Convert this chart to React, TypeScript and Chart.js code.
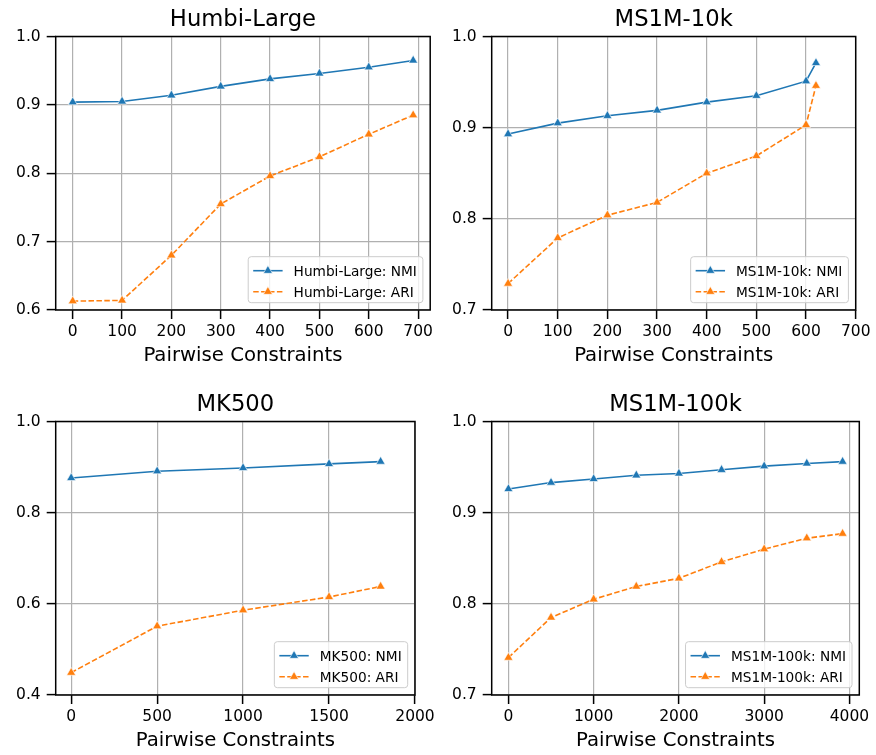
import React, { useEffect, useRef } from 'react';
import { Chart, registerables } from 'chart.js';

Chart.register(...registerables);

const FONT = '"DejaVu Sans", "Liberation Sans", sans-serif';
const BLUE = '#1f77b4';
const ORANGE = '#ff7f0e';
const GRID = '#b0b0b0';

// ---------- data ----------
const humbiX = [0, 100, 200, 300, 400, 500, 600, 690];
const humbiNMI = [0.904, 0.905, 0.914, 0.927, 0.938, 0.946, 0.955, 0.965];
const humbiARI = [0.613, 0.614, 0.680, 0.755, 0.796, 0.824, 0.857, 0.885];
const humbiXTicks = [0, 100, 200, 300, 400, 500, 600, 700];
const humbiYTicks = [0.6, 0.7, 0.8, 0.9, 1.0];

const ms10kX = [0, 100, 200, 300, 400, 500, 600, 620];
const ms10kNMI = [0.893, 0.905, 0.913, 0.919, 0.928, 0.935, 0.951, 0.971];
const ms10kARI = [0.729, 0.779, 0.804, 0.818, 0.850, 0.869, 0.903, 0.946];
const ms10kXTicks = [0, 100, 200, 300, 400, 500, 600, 700];
const ms10kYTicks = [0.7, 0.8, 0.9, 1.0];

const mk500X = [0, 500, 1000, 1500, 1800];
const mk500NMI = [0.876, 0.891, 0.898, 0.907, 0.912];
const mk500ARI = [0.449, 0.551, 0.586, 0.615, 0.638];
const mk500XTicks = [0, 500, 1000, 1500, 2000];
const mk500YTicks = [0.4, 0.6, 0.8, 1.0];

const ms100kX = [0, 500, 1000, 1500, 2000, 2500, 3000, 3500, 3920];
const ms100kNMI = [0.926, 0.933, 0.937, 0.941, 0.943, 0.947, 0.951, 0.954, 0.956];
const ms100kARI = [0.741, 0.785, 0.805, 0.819, 0.828, 0.846, 0.860, 0.872, 0.877];
const ms100kXTicks = [0, 1000, 2000, 3000, 4000];
const ms100kYTicks = [0.7, 0.8, 0.9, 1.0];

const xLabel = 'Pairwise Constraints';

type Panel = {
  title: string;
  x: number[];
  nmi: number[];
  ari: number[];
  xTicks: number[];
  yTicks: number[];
  xMin: number;
  xMax: number;
  padRight: number;
  left: number;
  top: number;
};

const panels: Panel[] = [
  { title: 'Humbi-Large', x: humbiX, nmi: humbiNMI, ari: humbiARI, xTicks: humbiXTicks, yTicks: humbiYTicks, xMin: -34.5, xMax: 724.5, padRight: 5, left: 0, top: 0 },
  { title: 'MS1M-10k', x: ms10kX, nmi: ms10kNMI, ari: ms10kARI, xTicks: ms10kXTicks, yTicks: ms10kYTicks, xMin: -33, xMax: 700, padRight: 16.3, left: 436, top: 0 },
  { title: 'MK500', x: mk500X, nmi: mk500NMI, ari: mk500ARI, xTicks: mk500XTicks, yTicks: mk500YTicks, xMin: -90, xMax: 2000, padRight: 21, left: 0, top: 385 },
  { title: 'MS1M-100k', x: ms100kX, nmi: ms100kNMI, ari: ms100kARI, xTicks: ms100kXTicks, yTicks: ms100kYTicks, xMin: -196, xMax: 4116, padRight: 12.7, left: 436, top: 385 },
];

const DASH = [5.5, 2.4];
const PT_R = 5.2;
const PT_BW = 0.6;
const LW = 1.6;

function drawTri(ctx: CanvasRenderingContext2D, x: number, y: number, r: number, color: string) {
  ctx.beginPath();
  let a = 0;
  ctx.moveTo(x + Math.sin(a) * r, y - Math.cos(a) * r);
  a += (2 * Math.PI) / 3;
  ctx.lineTo(x + Math.sin(a) * r, y - Math.cos(a) * r);
  a += (2 * Math.PI) / 3;
  ctx.lineTo(x + Math.sin(a) * r, y - Math.cos(a) * r);
  ctx.closePath();
  ctx.fillStyle = color;
  ctx.fill();
  ctx.lineWidth = PT_BW;
  ctx.strokeStyle = '#ffffff';
  ctx.stroke();
}

const framePlugin = {
  id: 'mplFrame',
  afterDatasetsDraw(chart: any) {
    const { ctx, chartArea } = chart;
    ctx.save();
    ctx.strokeStyle = '#000';
    ctx.lineWidth = 1.5;
    ctx.strokeRect(chartArea.left, chartArea.top, chartArea.right - chartArea.left, chartArea.bottom - chartArea.top);
    ctx.restore();
  },
};

const legendPlugin = {
  id: 'mplLegend',
  afterDraw(chart: any, _args: any, opts: any) {
    const { ctx, chartArea } = chart;
    const items = opts.items as { label: string; color: string; dash: number[] }[];
    if (!items) return;
    const fs = 13.7;
    ctx.save();
    ctx.font = `${fs}px ${FONT}`;
    const textW = Math.max(...items.map((it) => ctx.measureText(it.label).width));
    const padL = 5;
    const handle = 29.4;
    const handlePad = 11;
    const padR = 6;
    const boxW = padL + handle + handlePad + textW + padR;
    const boxH = 46;
    const right = chartArea.right - 7.3;
    const bottom = chartArea.bottom - 7.3;
    const lx = right - boxW;
    const ty = bottom - boxH;
    ctx.beginPath();
    (ctx as any).roundRect(lx, ty, boxW, boxH, 3);
    ctx.fillStyle = 'rgba(255,255,255,0.8)';
    ctx.fill();
    ctx.lineWidth = 1;
    ctx.strokeStyle = '#cccccc';
    ctx.stroke();
    items.forEach((it, i) => {
      const y = ty + 14 + i * 21;
      const x0 = lx + padL;
      ctx.save();
      ctx.beginPath();
      ctx.setLineDash(it.dash);
      ctx.strokeStyle = it.color;
      ctx.lineWidth = LW;
      ctx.moveTo(x0, y);
      ctx.lineTo(x0 + handle, y);
      ctx.stroke();
      ctx.setLineDash([]);
      drawTri(ctx, x0 + handle / 2, y, PT_R, it.color);
      ctx.restore();
      ctx.fillStyle = '#000';
      ctx.textAlign = 'left';
      ctx.textBaseline = 'alphabetic';
      ctx.fillText(it.label, x0 + handle + handlePad, y + 5.2);
    });
    ctx.restore();
  },
};

function makeConfig(p: Panel): any {
  const tickFont = { family: FONT, size: 15.5 };
  const ds = (label: string, vals: number[], color: string, dash: number[]) => ({
    label,
    data: p.x.map((x, i) => ({ x, y: vals[i] })),
    borderColor: color,
    backgroundColor: color,
    borderWidth: LW,
    borderDash: dash,
    pointStyle: 'triangle',
    pointRadius: PT_R,
    pointBackgroundColor: color,
    pointBorderColor: '#ffffff',
    pointBorderWidth: PT_BW,
    tension: 0,
    clip: false,
  });
  return {
    type: 'line',
    data: {
      datasets: [
        ds(`${p.title}: NMI`, p.nmi, BLUE, []),
        ds(`${p.title}: ARI`, p.ari, ORANGE, DASH),
      ],
    },
    options: {
      animation: false,
      responsive: false,
      events: [],
      layout: { padding: { left: 0, right: p.padRight, top: 0, bottom: 15 } },
      plugins: {
        legend: { display: false },
        tooltip: { enabled: false },
        title: {
          display: true,
          text: p.title,
          fullSize: false,
          color: '#000',
          font: { family: FONT, size: 22.7, weight: 'normal' },
          padding: { top: 6.2, bottom: 3.06 },
        },
        mplLegend: {
          items: [
            { label: `${p.title}: NMI`, color: BLUE, dash: [] },
            { label: `${p.title}: ARI`, color: ORANGE, dash: DASH },
          ],
        },
      },
      scales: {
        x: {
          type: 'linear',
          min: p.xMin,
          max: p.xMax,
          afterBuildTicks: (s: any) => {
            s.ticks = p.xTicks.map((v) => ({ value: v }));
          },
          afterFit: (s: any) => {
            s.height = 60;
            s.paddingLeft = 0;
            s.paddingRight = 0;
          },
          border: { display: false },
          grid: { color: GRID, lineWidth: 1.2, tickColor: '#000', tickLength: 9, tickWidth: 1.5 },
          ticks: {
            font: tickFont,
            color: '#000',
            padding: 3.6,
            maxRotation: 0,
            autoSkip: false,
            callback: (v: any) => String(v),
          },
          title: {
            display: true,
            text: xLabel,
            color: '#000',
            font: { family: FONT, size: 19.7 },
            padding: { top: 0, bottom: 2.3 },
          },
        },
        y: {
          type: 'linear',
          min: p.yTicks[0],
          max: p.yTicks[p.yTicks.length - 1],
          afterBuildTicks: (s: any) => {
            s.ticks = p.yTicks.map((v) => ({ value: v }));
          },
          afterFit: (s: any) => {
            s.width = 55.7;
          },
          border: { display: false },
          grid: { color: GRID, lineWidth: 1.2, tickColor: '#000', tickLength: 9, tickWidth: 1.5 },
          ticks: {
            font: tickFont,
            color: '#000',
            padding: 6,
            autoSkip: false,
            callback: (v: any) => Number(v).toFixed(1),
          },
        },
      },
    },
    plugins: [framePlugin, legendPlugin],
  };
}

function PanelChart({ p }: { p: Panel }) {
  const ref = useRef<HTMLCanvasElement>(null);
  useEffect(() => {
    if (!ref.current) return;
    const chart = new Chart(ref.current, makeConfig(p));
    return () => chart.destroy();
  }, [p]);
  return (
    <div style={{ position: 'absolute', left: p.left, top: p.top, width: 436, height: 385 }}>
      <canvas ref={ref} width={436} height={385} style={{ display: 'block' }} />
    </div>
  );
}

export default function App() {
  return (
    <div
      style={{
        position: 'fixed',
        left: 0,
        top: 0,
        width: 876,
        height: 755,
        overflow: 'hidden',
        background: '#ffffff',
      }}
    >
      {panels.map((p) => (
        <PanelChart key={p.title} p={p} />
      ))}
    </div>
  );
}
